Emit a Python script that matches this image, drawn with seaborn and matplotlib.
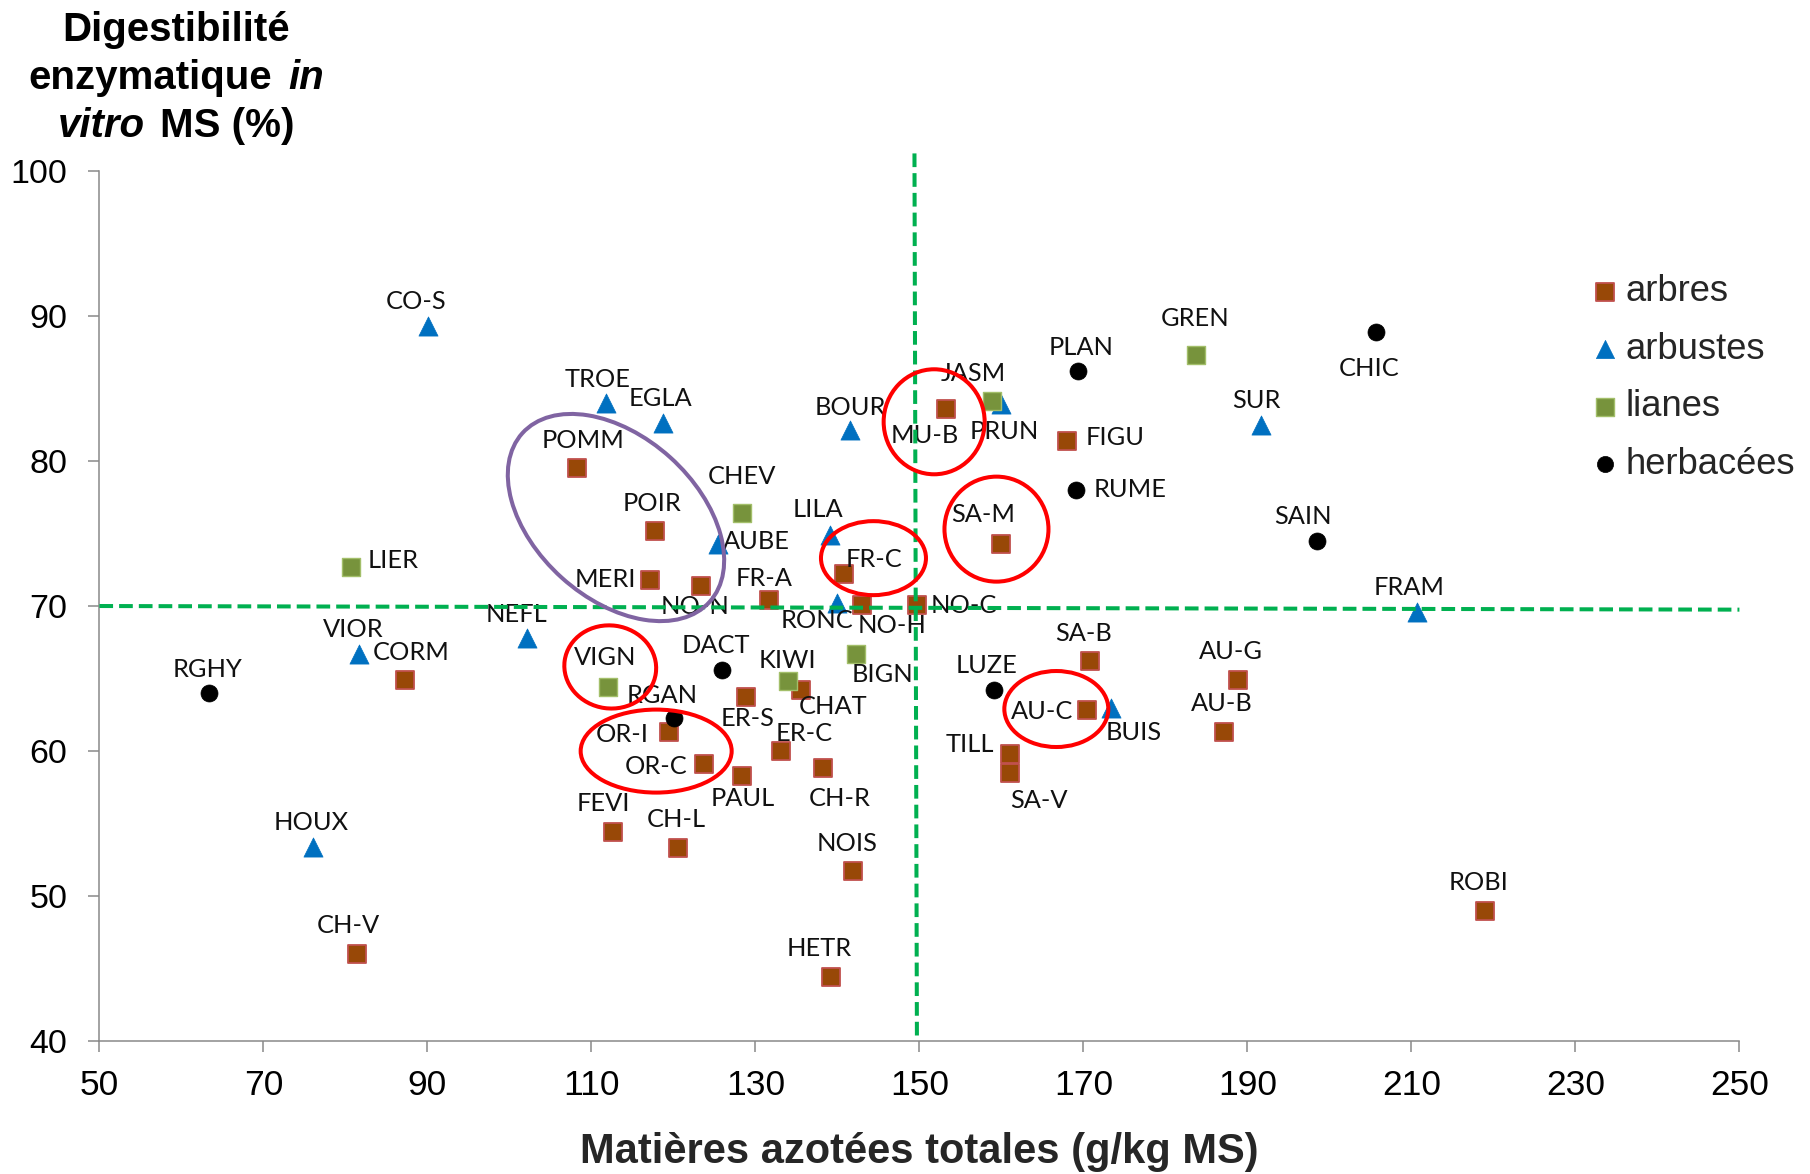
import matplotlib
matplotlib.use("Agg")
import matplotlib.pyplot as plt
import seaborn as sns
import pandas as pd
from matplotlib.patches import Ellipse
from matplotlib.transforms import ScaledTranslation
from matplotlib.offsetbox import TextArea, HPacker, VPacker, AnchoredOffsetbox

# ---------------------------------------------------------------------------
# Data: total nitrogen content (g/kg DM) vs in vitro enzymatic digestibility (%)
# ---------------------------------------------------------------------------
groups = ["arbres", "arbustes", "lianes", "herbacées"]

arbres_code = ["POMM", "POIR", "MERI", "NO-N", "FR-A", "FR-C", "NO-H", "NO-C",
               "MU-B", "SA-M", "FIGU", "SA-B", "AU-C", "TILL", "SA-V", "AU-G",
               "AU-B", "ROBI", "CORM", "CH-V", "FEVI", "CH-L", "OR-I", "OR-C",
               "PAUL", "ER-S", "CHAT", "ER-C", "CH-R", "NOIS", "HETR"]
arbres_mat = [108.3, 117.7, 117.2, 123.4, 131.6, 140.8, 143.0, 149.7,
              153.2, 159.9, 168.0, 170.8, 170.5, 161.0, 161.0, 188.9,
              187.2, 219.0, 87.3, 81.4, 112.6, 120.6, 119.5, 123.7,
              128.4, 128.9, 135.6, 133.1, 138.2, 141.9, 139.2]
arbres_dig = [79.5, 75.2, 71.8, 71.4, 70.4, 72.2, 70.1, 70.1,
              83.6, 74.3, 81.4, 66.2, 62.8, 59.8, 58.5, 64.9,
              61.3, 49.0, 64.9, 46.0, 54.4, 53.3, 61.3, 59.1,
              58.3, 63.7, 64.2, 60.0, 58.8, 51.7, 44.4]

arbustes_code = ["CO-S", "TROE", "EGLA", "AUBE", "LILA", "RONC", "BOUR",
                 "PRUN", "SUR", "FRAM", "BUIS", "NEFL", "VIOR", "HOUX"]
arbustes_mat = [90.1, 111.8, 118.7, 125.4, 139.1, 139.9, 141.5,
                160.0, 191.7, 210.7, 173.4, 102.1, 81.7, 76.0]
arbustes_dig = [89.3, 84.0, 82.6, 74.3, 74.9, 70.2, 82.1,
                83.9, 82.5, 69.6, 63.0, 67.8, 66.7, 53.4]

lianes_code = ["LIER", "CHEV", "JASM", "GREN", "BIGN", "KIWI", "VIGN"]
lianes_mat = [80.7, 128.4, 158.9, 183.7, 142.3, 134.0, 112.0]
lianes_dig = [72.7, 76.4, 84.1, 87.3, 66.7, 64.8, 64.4]

herb_code = ["RGHY", "DACT", "RGAN", "LUZE", "PLAN", "RUME", "CHIC", "SAIN"]
herb_mat = [63.4, 125.9, 120.1, 159.1, 169.3, 169.1, 205.7, 198.5]
herb_dig = [64.0, 65.6, 62.3, 64.2, 86.2, 78.0, 88.9, 74.5]

x_ticks = [50, 70, 90, 110, 130, 150, 170, 190, 210, 230, 250]
y_ticks = [40, 50, 60, 70, 80, 90, 100]

# ---------------------------------------------------------------------------
# Layout / style (kept apart from the data)
# ---------------------------------------------------------------------------
FIG_W, FIG_H, DPI = 18.10, 11.74, 100

group_style = {
    "arbres":    dict(marker="s", s=185, color="#984807", edgecolor="#C0504D", linewidth=1.3),
    "arbustes":  dict(marker="^", s=190, color="#0070C0", edgecolor="#0070C0", linewidth=0.5),
    "lianes":    dict(marker="s", s=180, color="#77933C", edgecolor="#A3BF6A", linewidth=1.0),
    "herbacées": dict(marker="o", s=150, color="#000000", edgecolor="#000000", linewidth=0.5),
}

# label offsets in pixels (dx, dy) relative to each point
label_offsets = {
    "CO-S": (-12, 25), "TROE": (-9, 23), "EGLA": (-2, 25), "POMM": (6, 28),
    "POIR": (-3, 27), "MERI": (-45, 0), "NO-N": (-6, -21), "CHEV": (0, 37),
    "AUBE": (39, 2), "LILA": (-12, 25), "FR-A": (-4, 22), "FR-C": (30, 15),
    "RONC": (-20, -17), "NO-H": (30, -21), "NO-C": (47, -1), "BOUR": (1, 23),
    "MU-B": (-21, -27), "JASM": (-19, 28), "PRUN": (3, -27), "SA-M": (-17, 29),
    "FIGU": (48, 3), "PLAN": (3, 24), "GREN": (-1, 37), "RUME": (54, 0),
    "SUR": (-5, 24), "CHIC": (-7, -37), "SAIN": (-14, 24), "FRAM": (-8, 24),
    "LIER": (42, 6), "NEFL": (-10, 23), "VIOR": (-6, 24), "CORM": (6, 28),
    "RGHY": (-2, 24), "VIGN": (-3, 30), "DACT": (-6, 24), "KIWI": (-1, 21),
    "BIGN": (26, -21), "CHAT": (32, -16), "RGAN": (-12, 22), "ER-S": (1, -21),
    "ER-C": (23, 18), "OR-I": (-47, -2), "OR-C": (-48, -2), "PAUL": (0, -23),
    "CH-R": (17, -30), "FEVI": (-9, 29), "CH-L": (-2, 29), "NOIS": (-6, 28),
    "HOUX": (-1, 24), "CH-V": (-9, 29), "HETR": (-12, 29), "LUZE": (-7, 25),
    "SA-B": (-6, 28), "AU-C": (-45, -1), "BUIS": (22, -25), "TILL": (-40, 9),
    "SA-V": (29, -28), "AU-G": (-7, 29), "AU-B": (-3, 29), "ROBI": (-7, 28),
}

# highlight ellipses: centre (data units), width/height (pixels), angle, colour
highlights = [
    ((113.0, 76.1), 252, 162, -42, "#8064A2"),
    ((151.8, 82.7), 101, 105, 0, "#FF0000"),
    ((159.4, 75.3), 104, 105, 0, "#FF0000"),
    ((144.4, 73.3), 105, 74, 0, "#FF0000"),
    ((112.3, 65.8), 92, 83, -8, "#FF0000"),
    ((117.9, 60.0), 151, 83, 0, "#FF0000"),
    ((166.7, 62.9), 104, 76, 0, "#FF0000"),
]

sns.set_theme(style="ticks")
plt.rcParams["font.family"] = ["Liberation Sans", "DejaVu Sans"]

frames = []
for g, codes, mat, dig in [
    ("arbres", arbres_code, arbres_mat, arbres_dig),
    ("arbustes", arbustes_code, arbustes_mat, arbustes_dig),
    ("lianes", lianes_code, lianes_mat, lianes_dig),
    ("herbacées", herb_code, herb_mat, herb_dig),
]:
    frames.append(pd.DataFrame({"code": codes, "mat": mat, "dig": dig, "groupe": g}))
df = pd.concat(frames, ignore_index=True)

fig = plt.figure(figsize=(FIG_W, FIG_H), dpi=DPI)
ax = fig.add_axes([0.0549, 0.1131, 0.9061, 0.7414])

for g in groups:
    st = group_style[g]
    sns.scatterplot(data=df[df["groupe"] == g], x="mat", y="dig", ax=ax,
                    marker=st["marker"], s=st["s"], color=st["color"],
                    edgecolor=st["edgecolor"], linewidth=st["linewidth"],
                    label=g, zorder=2)

ax.set_xlim(50, 250)
ax.set_ylim(40, 100)
ax.set_xticks(x_ticks)
ax.set_yticks(y_ticks)
ax.set_xlabel("")
ax.set_ylabel("")
for side in ("top", "right"):
    ax.spines[side].set_visible(False)
for side in ("left", "bottom"):
    ax.spines[side].set_color("#898989")
    ax.spines[side].set_linewidth(1.1)
ax.tick_params(axis="both", colors="#898989", length=8, width=1.1, labelcolor="black")
ax.tick_params(axis="y", labelsize=24.5, pad=15)
ax.tick_params(axis="x", labelsize=25.5, pad=12)

# point labels
for _, row in df.iterrows():
    dx, dy = label_offsets[row["code"]]
    ax.annotate(row["code"], (row["mat"], row["dig"]), xytext=(dx, dy),
                textcoords="offset pixels", ha="center", va="center",
                fontsize=18.3, family=["Lato", "DejaVu Sans"], color="#111111",
                zorder=3, annotation_clip=False)

# threshold lines
dash = dict(color="#00B050", linewidth=2.9, dashes=(3.4, 1.5), zorder=4, clip_on=False)
ax.plot([50, 250], [70.0, 69.75], **dash)
ax.plot([149.4, 149.7], [101.2, 40], **dash)

# highlight ellipses
for (cx, cy), w, h, ang, col in highlights:
    tr = fig.dpi_scale_trans + ScaledTranslation(cx, cy, ax.transData)
    ax.add_artist(Ellipse((0, 0), w / DPI, h / DPI, angle=ang, transform=tr,
                          fill=False, edgecolor=col, linewidth=2.9,
                          zorder=5, clip_on=False))

# legend
leg = ax.legend(loc="upper left", bbox_to_anchor=(0.8787, 0.7665),
                bbox_transform=fig.transFigure, frameon=False, fontsize=26.2,
                handlelength=0.8, handletextpad=0.15, labelspacing=0.62,
                borderpad=0, borderaxespad=0, markerscale=0.95)

# axis titles
fig.text(919 / 1810, 1 - 1152 / 1174, "Matières azotées totales (g/kg MS)",
         ha="center", va="center", fontsize=30, fontweight="bold")

bold = dict(fontsize=29, fontweight="bold", color="black")
bold_it = dict(fontsize=29, fontweight="bold", fontstyle="italic", color="black")
line1 = HPacker(children=[TextArea("Digestibilité", textprops=bold)], pad=0, sep=0)
line2 = HPacker(children=[TextArea("enzymatique", textprops=bold),
                          TextArea("in", textprops=bold_it)],
                pad=0, sep=12, align="baseline")
line3 = HPacker(children=[TextArea("vitro", textprops=bold_it),
                          TextArea("MS (%)", textprops=bold)],
                pad=0, sep=11, align="baseline")
ytitle = VPacker(children=[line1, line2, line3], pad=0, sep=7, align="center")
anch = AnchoredOffsetbox(loc="center", child=ytitle, pad=0, borderpad=0,
                         frameon=False, bbox_to_anchor=(176 / 1810, 1 - 78 / 1174),
                         bbox_transform=fig.transFigure)
ax.add_artist(anch)

fig.savefig("out.png", dpi=DPI, facecolor="white")
